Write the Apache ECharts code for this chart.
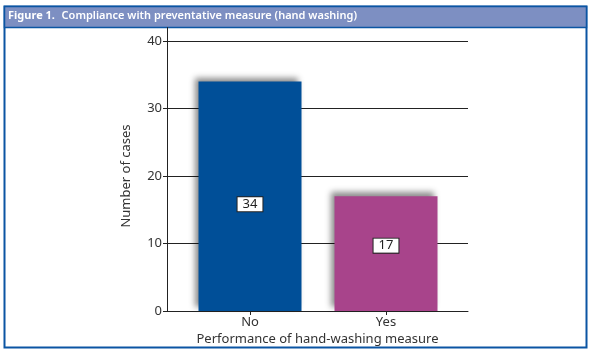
<!DOCTYPE html>
<html>
<head>
<meta charset="utf-8">
<script src="https://cdn.jsdelivr.net/npm/echarts@6/dist/echarts.min.js"></script>
<style>
  html, body { margin: 0; padding: 0; background: #fff; }
  #chart { width: 593px; height: 353px; }
</style>
</head>
<body>
<div id="chart"></div>
<script>
// data
const categories = ['No', 'Yes']
const cases = [34, 17]
const barColors = ['#004f98', '#a8448b']
const labelShift = [8, -8]
const yTicks = [0, 10, 20, 30, 40]

const font = 'Noto Sans'

let myChart = echarts.init(document.getElementById('chart'))

const option = {
    animation: false,
    textStyle: { fontFamily: font },
    graphic: [
        // outer frame
        {
            type: 'rect',
            shape: { x: 4.5, y: 6.5, width: 582, height: 341 },
            style: { fill: '#fff', stroke: '#0b55a3', lineWidth: 2 },
            z: -10
        },
        // title bar
        {
            type: 'rect',
            shape: { x: 4.5, y: 6.5, width: 582, height: 21 },
            style: { fill: '#7d8fc2', stroke: '#0b55a3', lineWidth: 1.5 },
            z: -9
        },
        {
            type: 'text',
            left: 8,
            top: 10,
            style: {
                text: '{b|Figure 1.}  {n|Compliance with preventative measure (hand washing)}',
                rich: {
                    b: { fill: '#fff', fontWeight: 'bold', fontSize: 11, fontFamily: font },
                    n: { fill: '#fff', fontWeight: 600, fontSize: 11, fontFamily: font }
                }
            }
        }
    ],
    grid: [
        // background grid: gridlines, y labels, x axis line
        { left: 167, right: 125, top: 41, bottom: 42 },
        // bar grid
        { left: 182, right: 139, top: 27.5, bottom: 42 }
    ],
    xAxis: [
        {
            gridIndex: 0,
            type: 'value',
            min: 0,
            max: 1,
            axisLine: { show: true, lineStyle: { color: '#222', width: 1 } },
            axisTick: { show: false },
            axisLabel: { show: false },
            splitLine: { show: false },
            name: 'Performance of hand-washing measure',
            nameLocation: 'middle',
            nameGap: 22,
            nameTextStyle: { color: '#333', fontSize: 13, fontFamily: font }
        },
        {
            gridIndex: 1,
            type: 'category',
            data: categories,
            axisLine: { show: false },
            axisTick: { show: true, alignWithLabel: true, length: 4, lineStyle: { color: '#222' } },
            axisLabel: { color: '#333', fontSize: 13, margin: 5, fontFamily: font }
        }
    ],
    yAxis: [
        {
            gridIndex: 0,
            type: 'value',
            min: yTicks[0],
            max: yTicks[yTicks.length - 1],
            interval: 10,
            axisLine: { show: false },
            axisTick: { show: true, length: 4, lineStyle: { color: '#222' } },
            axisLabel: { color: '#333', fontSize: 13, margin: 5, fontFamily: font },
            splitLine: { show: true, lineStyle: { color: '#222', width: 1 } },
            name: 'Number of cases',
            nameLocation: 'middle',
            nameRotate: 90,
            nameGap: 34,
            nameTextStyle: { color: '#333', fontSize: 13, fontFamily: font }
        },
        {
            gridIndex: 1,
            type: 'value',
            min: 0,
            max: 42,
            offset: 15,
            axisLine: { show: true, lineStyle: { color: '#222', width: 1 } },
            axisTick: { show: false },
            axisLabel: { show: false },
            splitLine: { show: false }
        }
    ],
    series: [
        {
            type: 'bar',
            xAxisIndex: 1,
            yAxisIndex: 1,
            barWidth: 103,
            data: cases.map((v, i) => ({
                value: v,
                itemStyle: { color: barColors[i] },
                label: { offset: [0, labelShift[i]] }
            })),
            itemStyle: {
                shadowColor: 'rgba(0,0,0,0.45)',
                shadowBlur: 6,
                shadowOffsetX: -4,
                shadowOffsetY: -4
            },
            label: {
                show: true,
                position: 'inside',
                color: '#222',
                fontSize: 13,
                fontFamily: font,
                backgroundColor: '#fff',
                borderColor: '#222',
                borderWidth: 1,
                padding: [1, 5, 0, 5]
            }
        }
    ]
}

myChart.setOption(option)
</script>
</body>
</html>
